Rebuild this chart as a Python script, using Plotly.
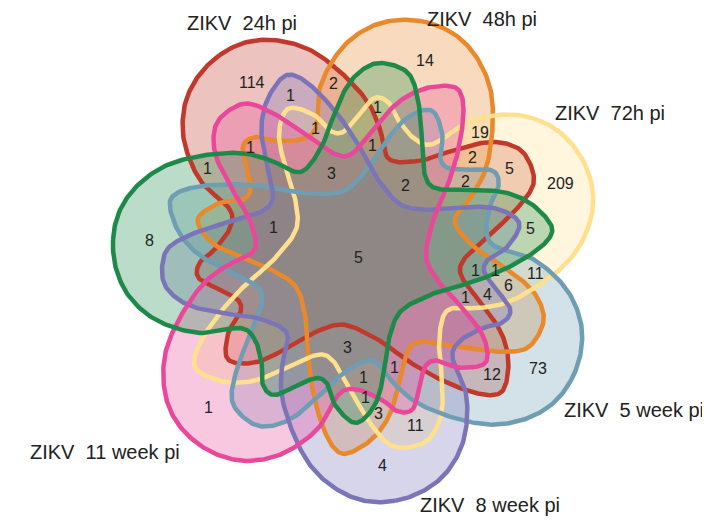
"""
7-set Venn diagram of ZIKV time points
"""

import numpy as np
import plotly.graph_objects as go

# sets, clockwise starting at the upper left petal
set_names = ["ZIKV\u00a0 24h pi", "ZIKV\u00a0 48h pi", "ZIKV\u00a0 72h pi",
             "ZIKV\u00a0 5 week pi", "ZIKV\u00a0 8 week pi",
             "ZIKV\u00a0 11 week pi", "ZIKV\u00a0 14 week pi"]
set_colors = ["#C0392B", "#E8892B", "#FFE08F", "#6E9DB4",
              "#7B75B8", "#E9489A", "#1E8A4A"]

# region counts
region_counts = [114, 2, 14, 1, 1, 1, 1, 1, 1, 19, 3, 2, 2, 5, 2, 209,
                 8, 1, 5, 5, 1, 1, 11, 6, 4, 1, 12, 73, 3, 1, 1, 1, 3, 11, 4, 1]
region_x = [252, 333, 425, 290, 377, 315, 372, 250, 207, 480, 331, 472, 465, 509, 405, 560,
            149, 273, 358, 530, 475, 495, 535, 508, 487, 465, 492, 538, 347, 394, 363, 365, 378, 415, 382, 208]
region_y = [82, 83, 60, 95, 107, 128, 145, 147, 168, 132, 173, 157, 181, 168, 185, 183,
            240, 227, 257, 228, 270, 270, 273, 285, 294, 297, 374, 368, 347, 367, 377, 397, 413, 425, 465, 407]

# set label left edges / middles
label_x = [185, 425, 553, 562, 418, 28, 2]
label_y = [23, 19, 113, 410, 505, 452, 159]

# diagram geometry (page pixels)
CX, CY = 358, 258
# outline of the 14 week petal, offsets from the centre; the other sets are rotations of it
OUTLINE = np.array([
    (-245, -18), (-238, -48), (-220, -73), (-193, -92), (-158, -102), (-118, -105),
    (-88, -98), (-58, -86), (-38, -108), (-30, -128), (-13, -168), (4, -188), (24, -195),
    (50, -185), (60, -158), (64, -118), (66, -86), (77, -70), (112, -68),
    (145, -66), (172, -55), (192, -35), (192, -21), (175, -5), (145, 12),
    (112, 25), (77, 35), (44, 52), (32, 77), (27, 107), (20, 140),
    (7, 160), (-6, 164), (-23, 147), (-30, 127), (-40, 120), (-56, 125),
    (-83, 137), (-95, 127), (-96, 107), (-103, 82), (-118, 70), (-158, 75),
    (-198, 64), (-226, 42), (-241, 14)], dtype=float)


def closed_spline(pts, steps=16):
    # closed catmull-rom through the outline points
    n = len(pts)
    out = []
    for i in range(n):
        p0, p1, p2, p3 = pts[i - 1], pts[i], pts[(i + 1) % n], pts[(i + 2) % n]
        for t in np.linspace(0, 1, steps, endpoint=False):
            t2, t3 = t * t, t * t * t
            out.append(0.5 * (2 * p1 + (-p0 + p2) * t
                              + (2 * p0 - 5 * p1 + 4 * p2 - p3) * t2
                              + (-p0 + 3 * p1 - 3 * p2 + p3) * t3))
    out.append(out[0])
    return np.array(out)


def rgba(hex_color, a):
    h = hex_color.lstrip("#")
    return "rgba(%d,%d,%d,%s)" % (int(h[0:2], 16), int(h[2:4], 16), int(h[4:6], 16), a)


base = closed_spline(OUTLINE)
step = 2 * np.pi / 7
curves = []
for k in range(7):
    ang = (k + 1) * step  # 14 week petal is the last one (full turn)
    c, s = np.cos(ang), np.sin(ang)
    x = CX + c * base[:, 0] - s * base[:, 1]
    y = CY + s * base[:, 0] + c * base[:, 1]
    curves.append((x, y))

fig = go.Figure()

for (x, y), col in zip(curves, set_colors):
    fig.add_trace(go.Scatter(x=x, y=y, mode="lines", fill="toself",
                             fillcolor=rgba(col, 0.3), line=dict(width=0),
                             hoverinfo="skip", showlegend=False))
for (x, y), col in zip(curves, set_colors):
    fig.add_trace(go.Scatter(x=x, y=y, mode="lines", line=dict(color=col, width=4.5),
                             hoverinfo="skip", showlegend=False))

for n, x, y in zip(region_counts, region_x, region_y):
    fig.add_annotation(x=x, y=y, text=str(n), showarrow=False,
                       font=dict(size=16, color="#222222"))

for name, x, y in zip(set_names, label_x, label_y):
    fig.add_annotation(x=x, y=y, text=name, showarrow=False, xanchor="left",
                       font=dict(size=20, color="#222222"))

# the page body has an 8px margin, so the figure is shrunk by it and the
# axis ranges start at 8 to keep data units equal to window pixels
fig.update_layout(
    width=702, height=512,
    margin=dict(l=0, r=0, t=0, b=0),
    paper_bgcolor="white", plot_bgcolor="white",
    font=dict(family="Liberation Sans, Arial, sans-serif"),
    xaxis=dict(range=[8, 710], visible=False, fixedrange=True),
    yaxis=dict(range=[520, 8], visible=False, fixedrange=True),
)

fig.write_html("out.html")
